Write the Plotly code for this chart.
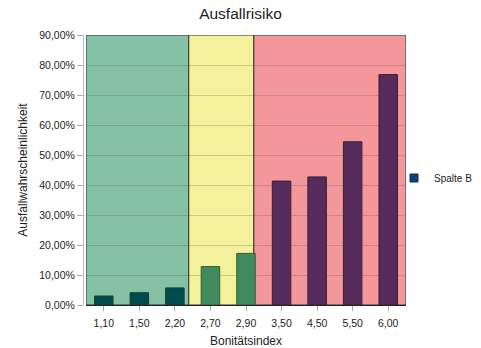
import plotly.graph_objects as go

categories = ["1,10", "1,50", "2,20", "2,70", "2,90", "3,50", "4,50", "5,50", "6,00"]
values = [0.030, 0.041, 0.057, 0.128, 0.172, 0.413, 0.427, 0.544, 0.768]
bar_colors = ["#004d4f"] * 3 + ["#3f8b5f"] * 2 + ["#552c5c"] * 4
bar_lines = ["#1e3a33"] * 3 + ["#3a5a2c"] * 2 + ["#3d1c35"] * 4
series_name = "Spalte B"
y_ticks = [0, 0.1, 0.2, 0.3, 0.4, 0.5, 0.6, 0.7, 0.8, 0.9]

# zone boundaries in category-axis units
zones = [(-0.5, 2.39, "#85c2a5"), (2.39, 4.22, "#f3f19b"), (4.22, 8.5, "#f4979b")]

W, H = 481, 348
ml, mr, mt, mb = 83, 75, 35, 43
pw = W - ml - mr

fig = go.Figure()
fig.add_trace(go.Bar(
    x=categories, y=values, width=0.52,
    marker=dict(color=bar_colors, line=dict(color=bar_lines, width=1)),
    showlegend=False, name=series_name,
))
fig.add_trace(go.Scatter(
    x=[None], y=[None], mode="markers", name=series_name,
    marker=dict(symbol="square", size=8, color="#004586",
                line=dict(color="#1a2a40", width=1)),
))

for x0, x1, c in zones:
    fig.add_shape(type="rect", xref="x", yref="y", x0=x0, x1=x1, y0=0, y1=0.9,
                  fillcolor=c, line=dict(color="#333333", width=1), layer="below")

fig.update_layout(
    width=W, height=H,
    margin=dict(l=ml, r=mr, t=mt, b=mb, autoexpand=False),
    paper_bgcolor="white", plot_bgcolor="white",
    separators=",.",
    font=dict(family="Liberation Sans, Arial, sans-serif", size=10, color="#222222"),
    title=dict(text="Ausfallrisiko", x=0.5, xanchor="center", y=1 - 14 / H,
               yanchor="middle", font=dict(size=15.5, color="#222222")),
    legend=dict(x=(394 - ml) / pw, y=(305 - 178) / 270, xanchor="left",
                yanchor="middle", bgcolor="rgba(0,0,0,0)", font=dict(size=10),
                itemwidth=30, tracegroupgap=0),
    xaxis=dict(
        type="category", range=[-0.5, 8.5], domain=[3 / pw, 1],
        showgrid=False, showline=True, linecolor="#222222", linewidth=1,
        ticks="outside", ticklen=5, tickcolor="#aaaaaa", tickwidth=1,
        ticklabelstandoff=3,
        title=dict(text="Bonitätsindex", font=dict(size=12), standoff=10),
        tickfont=dict(size=10.5), fixedrange=True,
    ),
    yaxis=dict(
        range=[0, 0.9], anchor="free", position=0,
        tickvals=y_ticks, tickformat=".2%",
        showgrid=True, gridcolor="rgba(70,70,70,0.22)", gridwidth=1,
        zeroline=False, showline=True, linecolor="#bbbbbb", linewidth=1,
        ticks="outside", ticklen=6, tickcolor="#aaaaaa",
        title=dict(text="Ausfallwahrscheinlichkeit", font=dict(size=12), standoff=8),
        tickfont=dict(size=10.5), fixedrange=True,
    ),
)

fig.write_html("out.html")
